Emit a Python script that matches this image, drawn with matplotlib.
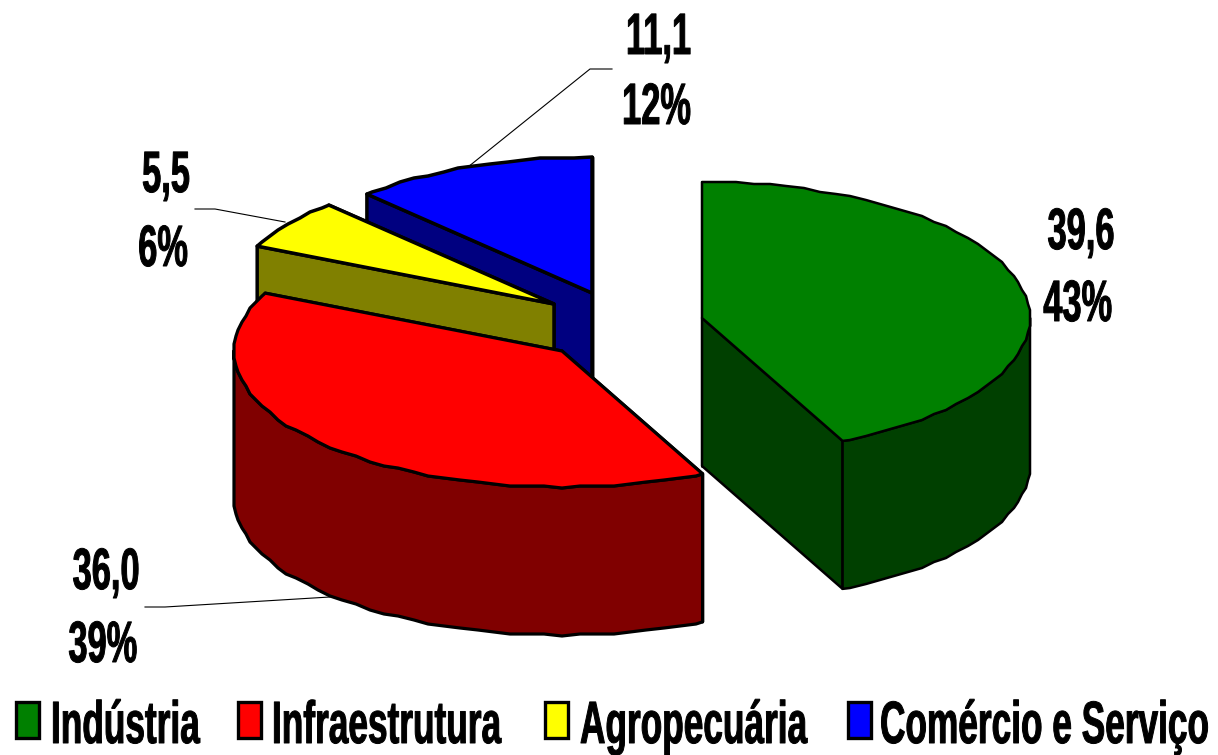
from __future__ import annotations

import matplotlib
matplotlib.use("Agg")
import matplotlib.pyplot as plt
import numpy as np
from matplotlib.patches import Polygon, Rectangle
from matplotlib.text import Text
from matplotlib.textpath import TextPath
from matplotlib.transforms import Affine2D, Bbox, IdentityTransform

categories = ["Indústria", "Infraestrutura", "Agropecuária", "Comércio e Serviço"]
values = [39.6, 36.0, 5.5, 11.1]
value_labels = ["39,6", "36,0", "5,5", "11,1"]
percent_labels = ["43%", "39%", "6%", "12%"]

top_colors = ["#008000", "#ff0000", "#ffff00", "#0000ff"]
side_colors = ["#004000", "#800000", "#808000", "#000080"]

# layout, all in image pixels
apexes = [(702, 318), (562, 351), (554, 304), (592, 293)]
edge_widths = [1.8, 2.3, 2.5, 2.5]
radius_x, radius_y, depth = 328, 136, 148
value_pos = [(1080, 249), (105, 589), (165, 192), (657, 54)]
percent_pos = [(1077, 321), (102, 662), (162, 266), (655, 124)]
leaders = [None, [(145, 607), (165, 607), (330, 597)], [(195, 209), (215, 209), (285, 222)], [(612, 69), (590, 69), (468, 167)]]
legend_boxes = [16, 238, 545, 848]
legend_text_x = [51, 272, 580, 880]
SQUEEZE = 0.59
RIM_STEP = 2


class NarrowText(Text):
    """The source font is squeezed sideways, which plain Text cannot do."""

    def _get_layout(self, renderer):
        bbox, info, descent = super()._get_layout(renderer)
        narrow = Bbox([[bbox.x0 * SQUEEZE, bbox.y0], [bbox.x1 * SQUEEZE, bbox.y1]])
        return narrow, info, descent

    def _glyph_path(self):
        size = self.get_fontsize() * self.get_figure().dpi / 72
        path = TextPath((0, 0), self.get_text(), size=size, prop=self.get_fontproperties())
        x, y = self.axes.transData.transform(self.get_position())
        width = path.get_extents().width * SQUEEZE
        shift = -width / 2 if self.get_ha() == "center" else 0
        return path.transformed(Affine2D().scale(SQUEEZE, 1).translate(x + shift, y))

    def draw(self, renderer):
        gc = renderer.new_gc()
        gc.set_linewidth(0.7)
        renderer.draw_path(gc, self._glyph_path(), IdentityTransform(), rgbFace=(0, 0, 0))
        gc.restore()


def rim(apex, t0, t1, drop=0.0):
    # rough ellipse arc, snapped to a coarse grid like the original raster
    inner = np.arange(np.ceil(t0 / 3) * 3, t1, 3.0)
    inner = inner[inner > t0]
    t = np.radians(np.concatenate([[t0], inner, [t1]]))
    x = apex[0] + radius_x * np.sin(t)
    y = apex[1] - radius_y * np.cos(t)
    x[1:-1] = np.round(x[1:-1] / RIM_STEP) * RIM_STEP
    y[1:-1] = np.round(y[1:-1] / RIM_STEP) * RIM_STEP
    return np.column_stack([x, y + drop])


def add_label(ax, x, y, text, ha="center", size=42):
    ax.add_artist(NarrowText(x, y, text, ha=ha, fontsize=size, fontfamily="Liberation Sans", fontweight="bold"))


fig = plt.figure(figsize=(12.18, 7.55), dpi=100)
ax = fig.add_axes([0, 0, 1, 1])
ax.set_xlim(0, 1218)
ax.set_ylim(755, 0)
ax.axis("off")

shares = np.array(values) / sum(values) * 360
ends = np.cumsum(shares)
starts = ends - shares

# back to front, so the nearer slices cover the farther ones
for i in [3, 2, 1, 0]:
    apex, t0, t1 = apexes[i], starts[i], ends[i]
    lw = edge_widths[i]
    corners = sorted((rim(apex, t, t)[0] for t in (t0, t1)), key=lambda p: p[1])
    for edge in corners:
        face = [apex, edge, edge + [0, depth], (apex[0], apex[1] + depth)]
        ax.add_patch(Polygon(face, fc=side_colors[i], ec="black", lw=lw, joinstyle="round"))
    w0, w1 = max(t0, 90), min(t1, 270)
    if w1 > w0:
        upper = rim(apex, w0, w1)
        lower = rim(apex, w0, w1, depth)
        ax.add_patch(Polygon(np.vstack([upper, lower[::-1]]), fc=side_colors[i], ec="black", lw=lw, joinstyle="round"))
    top = np.vstack([[apex], rim(apex, t0, t1)])
    ax.add_patch(Polygon(top, fc=top_colors[i], ec="black", lw=lw, joinstyle="round"))

for points in leaders:
    if points:
        xs, ys = zip(*points)
        ax.plot(xs, ys, color="black", lw=0.8)

for i in range(len(values)):
    add_label(ax, *value_pos[i], value_labels[i])
    add_label(ax, *percent_pos[i], percent_labels[i])
    ax.add_patch(Rectangle((legend_boxes[i], 702), 23, 36, fc=top_colors[i], ec="black", lw=2.4))
    add_label(ax, legend_text_x[i], 743, categories[i], ha="left", size=43)

fig.savefig("out.png", dpi=100, facecolor="white")
plt.close(fig)
